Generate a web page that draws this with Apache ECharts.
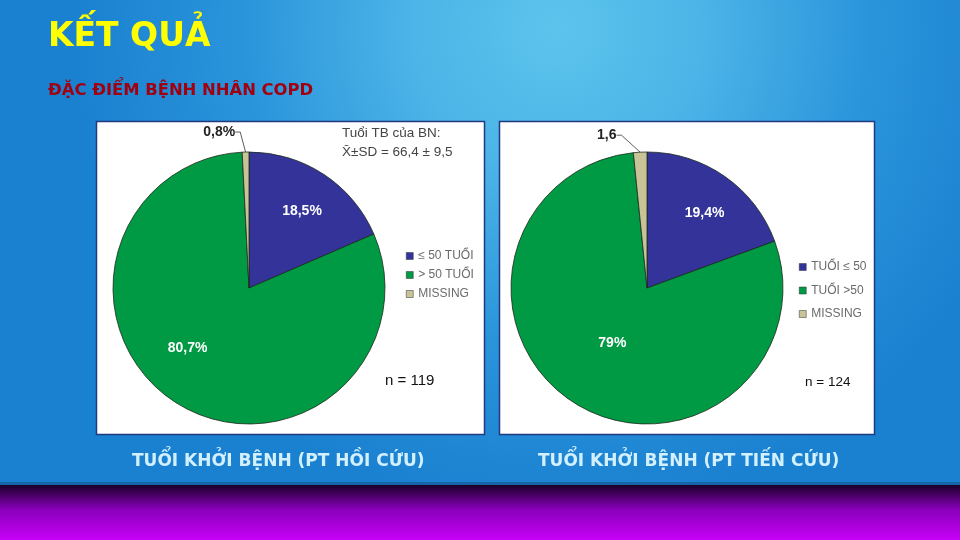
<!DOCTYPE html>
<html>
<head>
<meta charset="utf-8">
<script src="https://cdn.jsdelivr.net/npm/echarts@6/dist/echarts.min.js"></script>
<style>
html,body{margin:0;padding:0;width:960px;height:540px;overflow:hidden;}
#c{width:960px;height:540px;}
</style>
</head>
<body>
<div id="c"></div>
<script>
// ---- data ----
const leftNames = ['≤ 50 TUỔI', '> 50 TUỔI', 'MISSING'];
const leftValues = [18.5, 80.7, 0.8];
const leftLabels = ['18,5%', '80,7%', '0,8%'];
const rightNames = ['TUỔI ≤ 50', 'TUỔI >50', 'MISSING'];
const rightValues = [19.4, 79, 1.6];
const rightLabels = ['19,4%', '79%', '1,6'];
const sliceColors = ['#333399', '#009944', '#c9c497'];
const titleText = 'KẾT QUẢ';
const subtitleText = 'ĐẶC ĐIỂM BỆNH NHÂN COPD';
const captionLeft = 'TUỔI KHỞI BỆNH (PT HỒI CỨU)';
const captionRight = 'TUỔI KHỞI BỆNH (PT TIẾN CỨU)';
const noteLines = ['Tuổi TB của BN:', 'X\u0304±SD = 66,4 ± 9,5'];
const nLeft = 'n = 119';
const nRight = 'n = 124';

function buildData(names, values, labels) {
  return names.map((n, i) => {
    const item = { name: n, value: values[i], itemStyle: { color: sliceColors[i] } };
    if (i === 2) {
      item.label = { position: 'outside', color: '#222', fontWeight: 'bold', fontSize: 14 };
      item.labelLine = { show: true, length: 14, length2: 5, lineStyle: { color: '#333', width: 0.8 } };
    }
    return item;
  });
}

const chart = echarts.init(document.getElementById('c'));

function pieSeries(center, names, values, labels, shifts) {
  return {
    type: 'pie',
    center: center,
    radius: 136,
    startAngle: 90,
    clockwise: true,
    avoidLabelOverlap: false,
    animation: false,
    silent: true,
    itemStyle: { borderColor: '#1a2a1a', borderWidth: 0.8 },
    label: {
      show: true,
      position: 'inside',
      color: '#ffffff',
      fontFamily: 'Liberation Sans, Arial, sans-serif',
      fontWeight: 'bold',
      fontSize: 14,
      formatter: p => labels[p.dataIndex]
    },
    labelLine: { show: false },
    labelLayout: function (p) {
      const s = shifts[p.dataIndex];
      if (!s) return {};
      if (p.dataIndex === 2) {
        const r = p.labelRect;
        return { x: r.x + r.width + s[0], y: r.y + r.height / 2 + s[1], align: 'right', verticalAlign: 'middle' };
      }
      return { dx: s[0], dy: s[1] };
    },
    data: buildData(names, values, labels)
  };
}

const legendText = { color: '#6a6a6a', fontSize: 12, fontFamily: 'Liberation Sans, Arial, sans-serif', lineHeight: 14 };

const option = {
  animation: false,
  graphic: [
    // slide background
    { type: 'rect', z: -100, shape: { x: 0, y: 0, width: 960, height: 485 },
      style: { fill: new echarts.graphic.RadialGradient(0.58, 0.06, 1.0, [
        { offset: 0, color: '#5cc4ec' }, { offset: 0.3, color: '#4cb4e7' },
        { offset: 0.65, color: '#2a94db' }, { offset: 1, color: '#1a80d0' }]) } },
    { type: 'rect', z: -98, shape: { x: 0, y: 482, width: 960, height: 4 }, style: { fill: '#1565a8' } },
    { type: 'rect', z: -98, shape: { x: 0, y: 485, width: 960, height: 55 },
      style: { fill: new echarts.graphic.LinearGradient(0, 0, 0, 1, [
        { offset: 0, color: '#1a0028' }, { offset: 0.45, color: '#8a00bc' }, { offset: 1, color: '#c800f8' }]) } },
    // panels
    { type: 'rect', z: -50, shape: { x: 96.5, y: 121.5, width: 388, height: 313 },
      style: { fill: '#ffffff', stroke: '#203a80', lineWidth: 1.5 } },
    { type: 'rect', z: -50, shape: { x: 499.5, y: 121.5, width: 375, height: 313 },
      style: { fill: '#ffffff', stroke: '#203a80', lineWidth: 1.5 } },
    // titles
    { type: 'text', left: 48, top: 21, style: { text: titleText, fill: '#ffff00',
      font: 'bold 33px "DejaVu Sans", Tahoma, sans-serif' } },
    { type: 'text', left: 48, top: 83, style: { text: subtitleText, fill: '#a00010',
      font: 'bold 16.4px "DejaVu Sans", Tahoma, sans-serif' } },
    // note
    { type: 'text', left: 342, top: 126, style: { text: noteLines[0], fill: '#444',
      font: '13.5px "Liberation Sans", Arial, sans-serif' } },
    { type: 'text', left: 342, top: 145, style: { text: noteLines[1], fill: '#444',
      font: '13.5px "Liberation Sans", Arial, sans-serif' } },
    // n labels
    { type: 'text', left: 385, top: 373, style: { text: nLeft, fill: '#111',
      font: '15px "Liberation Sans", Arial, sans-serif' } },
    { type: 'text', left: 805, top: 375, style: { text: nRight, fill: '#111',
      font: '13.5px "Liberation Sans", Arial, sans-serif' } },
    // captions
    { type: 'text', left: 132, top: 453, style: { text: captionLeft, fill: '#d2f0ff',
      font: 'bold 17px "DejaVu Sans", Tahoma, sans-serif' } },
    { type: 'text', left: 538, top: 453, style: { text: captionRight, fill: '#d2f0ff',
      font: 'bold 17px "DejaVu Sans", Tahoma, sans-serif' } }
  ],
  legend: [
    { seriesIndex: 0, data: leftNames, orient: 'vertical', left: 401, top: 244,
      itemWidth: 7, itemHeight: 7, itemGap: 5, icon: 'rect', textStyle: legendText, selectedMode: false,
      itemStyle: { borderColor: '#333', borderWidth: 0.5 } },
    { seriesIndex: 1, data: rightNames, orient: 'vertical', left: 794, top: 255,
      itemWidth: 7, itemHeight: 7, itemGap: 9.5, icon: 'rect', textStyle: legendText, selectedMode: false,
      itemStyle: { borderColor: '#333', borderWidth: 0.5 } }
  ],
  series: [
    pieSeries([249, 288], leftNames, leftValues, leftLabels, [[14, -18], [-24, 0], [0, -6]]),
    pieSeries([647, 288], rightNames, rightValues, rightLabels, [[17, -17], [3, -5], [-13, -3]])
  ]
};
chart.setOption(option);
</script>
</body>
</html>
